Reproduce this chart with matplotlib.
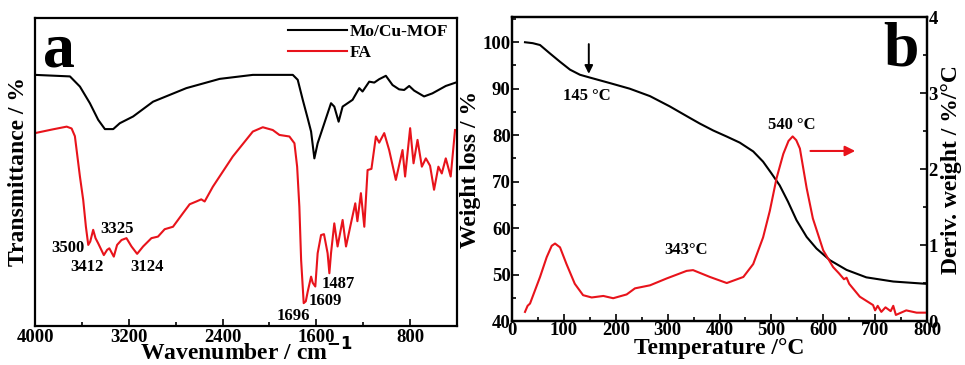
import matplotlib
matplotlib.use("Agg")
from matplotlib import pyplot as plt
from matplotlib.ticker import MultipleLocator


# ================================================================
# 0. Section: DATA
# ================================================================
# (a) FT-IR, transmittance in arbitrary units (0-100 axis)
MOF_WN = [4000, 3702, 3617, 3532, 3461, 3404, 3333, 3277, 3163, 2993, 2709, 2425,
          2142, 1801, 1759, 1716, 1674, 1645, 1617, 1589, 1560, 1504, 1475, 1447,
          1410, 1376, 1291, 1234, 1206, 1149, 1106, 1064, 1007, 950, 894, 851,
          808, 766, 681, 610, 496, 411]
MOF_T = [81.5, 81.0, 77.7, 72.3, 66.9, 63.9, 63.9, 65.8, 68.0, 72.8, 77.2, 80.2,
         81.5, 81.5, 79.9, 73.4, 67.4, 63.1, 54.4, 59.3, 62.6, 69.0, 72.3, 71.2,
         66.3, 71.2, 73.4, 77.2, 76.1, 79.3, 79.0, 80.1, 81.2, 78.2, 76.8, 76.6,
         77.9, 76.4, 74.5, 75.5, 77.9, 79.0]

FA_WN = [4000, 3850, 3730, 3688, 3660, 3617, 3589, 3566, 3546, 3529, 3504, 3484,
         3461, 3413, 3385, 3366, 3328, 3300, 3262, 3220, 3177, 3129, 3078, 3007,
         2951, 2894, 2823, 2738, 2681, 2624, 2582, 2553, 2483, 2313, 2142, 2057,
         1972, 1915, 1830, 1787, 1764, 1745, 1730, 1708, 1690, 1674, 1645, 1631,
         1609, 1589, 1560, 1535, 1504, 1489, 1475, 1447, 1419, 1376, 1347, 1305,
         1268, 1250, 1220, 1191, 1163, 1130, 1092, 1064, 1021, 979, 922, 865,
         843, 800, 771, 737, 700, 666, 630, 596, 559, 530, 496, 454, 417]
FA_T = [62.6, 63.8, 64.7, 64.1, 61.6, 48.5, 40.9, 32.2, 26.3, 27.4, 31.2, 28.5,
        26.8, 23.0, 24.7, 25.2, 22.5, 26.3, 27.9, 28.5, 25.8, 23.4, 25.8, 28.5,
        29.0, 31.4, 32.2, 36.6, 39.5, 40.4, 41.1, 40.4, 45.2, 55.0, 63.1, 64.5,
        63.6, 62.0, 61.5, 59.3, 51.7, 38.7, 21.4, 7.4, 8.0, 11.1, 16.0, 14.0,
        12.8, 23.6, 29.5, 29.8, 23.6, 17.1, 23.6, 33.3, 25.8, 34.4, 25.8, 33.3,
        39.8, 34.0, 43.1, 32.2, 50.6, 51.0, 61.5, 59.5, 62.6, 57.1, 47.4, 57.1,
        48.5, 64.2, 52.8, 60.4, 51.7, 54.4, 52.0, 44.2, 51.7, 49.5, 54.4, 48.5, 63.6]

IR_PEAKS = ["3500", "3412", "3325", "3124", "1696", "1609", "1487"]
IR_PEAK_X = [3723, 3553, 3302, 3047, 1796, 1524, 1413]
IR_PEAK_Y = [25.3, 19.0, 31.5, 19.0, 3.2, 8.1, 13.6]

# (b) TGA / DTG
TGA_TEMP = [25, 40, 54, 73, 92.5, 111.8, 131, 150, 189, 227, 266, 304, 343,
            362, 388, 414, 439, 465, 484, 500, 516, 532, 548.5, 568, 587, 612.7,
            645, 683, 735, 799]
TGA_W = [100.0, 99.8, 99.4, 97.6, 95.8, 94.1, 93.0, 92.4, 91.2, 90.0, 88.4,
         86.2, 83.7, 82.5, 81.0, 79.7, 78.4, 76.5, 74.3, 71.8, 69.2, 65.7, 61.7,
         58.1, 55.6, 53.1, 51.0, 49.4, 48.5, 48.0]

DTG_TEMP = [25, 30, 34.7, 54, 66.8, 76.5, 82.9, 92.5, 105, 121, 137, 153.6,
            176, 195, 221, 237, 266, 298, 336.6, 349, 381.5, 414, 446, 465,
            484, 497, 510, 523, 533, 541, 548, 555, 568, 580, 600, 619, 630,
            640, 645, 650, 670.5, 696, 700, 705, 712, 720, 730, 735, 740, 760,
            780, 799]
DTG_D = [0.12, 0.20, 0.23, 0.58, 0.84, 0.99, 1.02, 0.97, 0.75, 0.49, 0.34, 0.31,
         0.33, 0.30, 0.35, 0.43, 0.47, 0.56, 0.66, 0.67, 0.58, 0.50, 0.58, 0.75,
         1.10, 1.45, 1.88, 2.20, 2.37, 2.43, 2.38, 2.27, 1.75, 1.35, 0.93, 0.71,
         0.63, 0.55, 0.57, 0.49, 0.32, 0.21, 0.14, 0.20, 0.12, 0.18, 0.13, 0.20,
         0.08, 0.14, 0.11, 0.11]


# ================================================================
# 1. Section: STYLE
# ================================================================
plt.rcParams["font.family"] = ["Liberation Serif", "DejaVu Serif"]
plt.rcParams["font.weight"] = "bold"
plt.rcParams["axes.linewidth"] = 1.6

RED = "#e8131b"
TICK_FS = 13.5
LABEL_FS = 17


# ================================================================
# 2. Section: MAIN
# ================================================================
fig = plt.figure(figsize=(9.65, 3.65), dpi=100)

# ──────────────────────────────────────────────────────
# 2.1 Subsection: panel a (FT-IR)
# ──────────────────────────────────────────────────────
ax1 = fig.add_axes([0.0363, 0.107, 0.4373, 0.844])
ax1.plot(MOF_WN, MOF_T, color="black", lw=1.5, label="Mo/Cu-MOF")
ax1.plot(FA_WN, FA_T, color=RED, lw=1.5, label="FA")
ax1.set_xlim(4000, 400)
ax1.set_ylim(0, 100)
ax1.xaxis.set_major_locator(MultipleLocator(800))
ax1.xaxis.set_minor_locator(MultipleLocator(400))
ax1.set_yticks([])
ax1.tick_params(axis="x", which="both", direction="in", top=False,
                labelsize=TICK_FS, pad=2)
ax1.tick_params(axis="x", which="major", length=5, width=1.2)
ax1.tick_params(axis="x", which="minor", length=3, width=1.2)
ax1.set_xlabel("Wavenumber / cm$^{\\mathbf{-1}}$", fontsize=LABEL_FS,
               fontweight="bold", labelpad=-5)
ax1.set_ylabel("Transmittance / %", fontsize=LABEL_FS, fontweight="bold",
               labelpad=4)
ax1.legend(loc="upper right", frameon=False, fontsize=12.5, handlelength=3.4,
           handletextpad=0.15, borderaxespad=0.1, labelspacing=0.3,
           bbox_to_anchor=(1.0, 1.01))
ax1.text(0.02, 0.985, "a", transform=ax1.transAxes, fontsize=46,
         fontweight="bold", va="top", ha="left")
for lbl, x, y in zip(IR_PEAKS, IR_PEAK_X, IR_PEAK_Y):
    ax1.text(x, y, lbl, fontsize=12, fontweight="bold", ha="center", va="center")

# ──────────────────────────────────────────────────────
# 2.2 Subsection: panel b (TGA / DTG)
# ──────────────────────────────────────────────────────
ax2 = fig.add_axes([0.5306, 0.1205, 0.4300, 0.8325])
ax2.plot(TGA_TEMP, TGA_W, color="black", lw=1.5)
ax2.set_xlim(0, 800)
ax2.set_ylim(40, 105.4)
ax2.xaxis.set_major_locator(MultipleLocator(100))
ax2.xaxis.set_minor_locator(MultipleLocator(50))
ax2.yaxis.set_major_locator(MultipleLocator(10))
ax2.yaxis.set_minor_locator(MultipleLocator(5))
ax2.tick_params(which="both", direction="in", top=False, right=False,
                labelsize=TICK_FS, pad=1)
ax2.tick_params(which="major", length=5, width=1.2)
ax2.tick_params(which="minor", length=3, width=1.2)
ax2.set_xlabel("Temperature /°C", fontsize=LABEL_FS, fontweight="bold",
               labelpad=-1)
ax2.set_ylabel("Weight loss / %", fontsize=LABEL_FS, fontweight="bold",
               labelpad=1)

ax3 = ax2.twinx()
ax3.plot(DTG_TEMP, DTG_D, color=RED, lw=1.5)
ax3.set_ylim(0, 4)
ax3.yaxis.set_major_locator(MultipleLocator(1))
ax3.yaxis.set_minor_locator(MultipleLocator(0.5))
ax3.tick_params(which="both", direction="in", labelsize=TICK_FS, pad=1)
ax3.tick_params(which="major", length=5, width=1.2)
ax3.tick_params(which="minor", length=3, width=1.2)
ax3.set_ylabel("Deriv. weight / %/°C", fontsize=LABEL_FS, fontweight="bold",
               labelpad=2)

ax2.annotate("", xy=(148, 92.6), xytext=(148, 100.2),
             arrowprops=dict(arrowstyle="-|>", color="black", lw=1.4,
                             mutation_scale=12))
ax2.text(144, 88.4, "145 °C", fontsize=12, fontweight="bold",
         ha="center", va="center")
ax2.text(539, 82.2, "540 °C", fontsize=12, fontweight="bold",
         ha="center", va="center")
ax2.text(335, 55.3, "343°C", fontsize=12, fontweight="bold",
         ha="center", va="center")
ax2.annotate("", xy=(667, 76.6), xytext=(570, 76.6),
             arrowprops=dict(arrowstyle="-|>", color=RED, lw=1.5,
                             mutation_scale=15))
ax2.text(0.98, 0.985, "b", transform=ax2.transAxes, fontsize=46,
         fontweight="bold", va="top", ha="right")

fig.savefig("out.png", dpi=100)
